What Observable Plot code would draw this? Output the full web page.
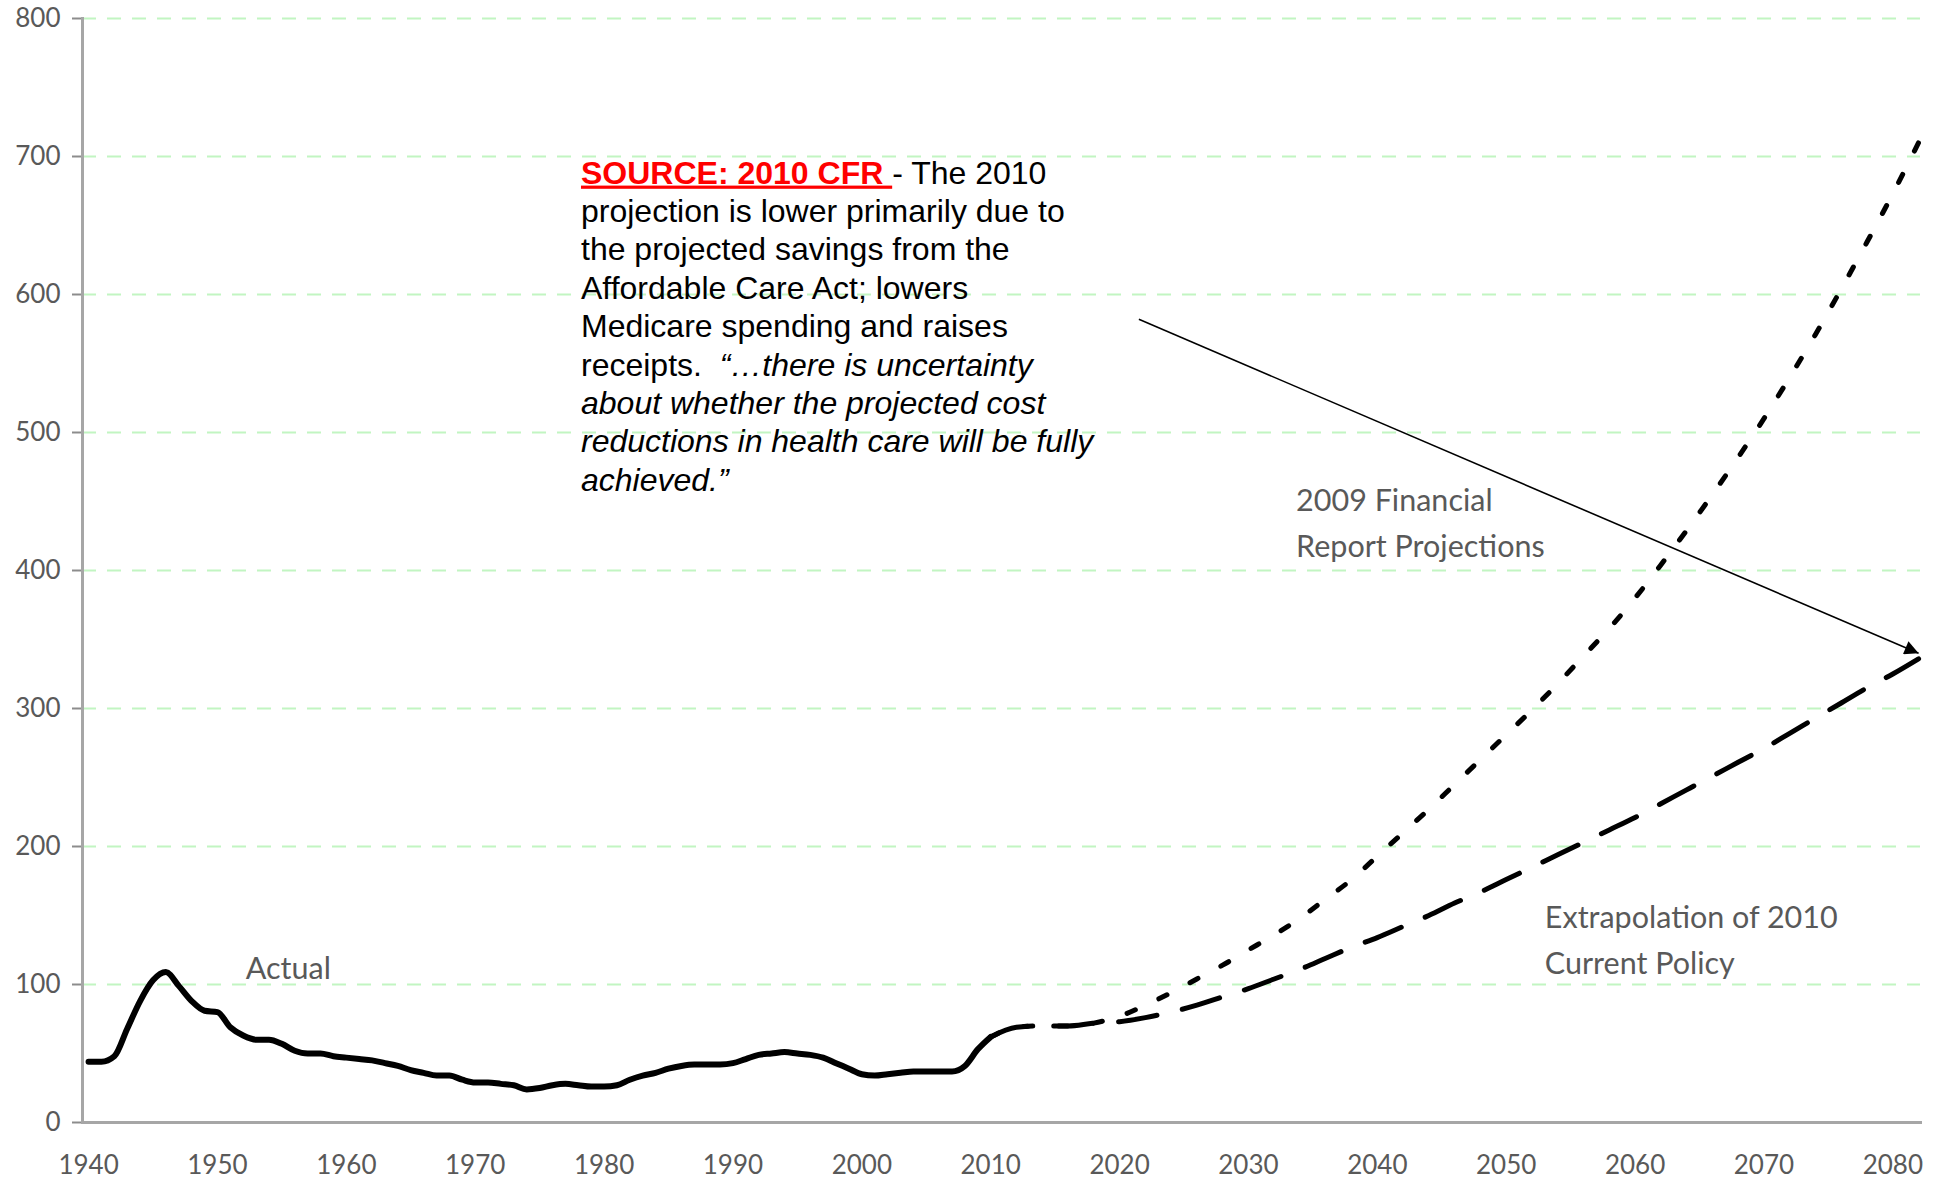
<!DOCTYPE html>
<html><head><meta charset="utf-8">
<script src="https://cdn.jsdelivr.net/npm/d3@7"></script>
<script src="https://cdn.jsdelivr.net/npm/@observablehq/plot@0.6"></script>
<style>
html,body{margin:0;padding:0;background:#fff;}
#chart{width:1940px;height:1181px;}
</style></head><body><div id="chart"></div>
<script>
// ---- data ----
const actualYears = [1940,1941,1942,1943,1944,1945,1946,1947,1948,1949,1950,1951,1952,1953,1954,1955,1956,1957,1958,1959,1960,1961,1962,1963,1964,1965,1966,1967,1968,1969,1970,1971,1972,1973,1974,1975,1976,1977,1978,1979,1980,1981,1982,1983,1984,1985,1986,1987,1988,1989,1990,1991,1992,1993,1994,1995,1996,1997,1998,1999,2000,2001,2002,2003,2004,2005,2006,2007,2008,2009,2010];
const actualValues = [44,44,48,68,88,103,109,99,88,81,80,69,63,60,60,57,52,50,50,48,47,46,45,43,41,38,36,34,34,31,29,29,28,27,24,25,27,28,27,26,26,27,31,34,36,39,41,42,42,42,43,46,49,50,51,50,49,47,43,39,35,34,35,36,37,37,37,37,41,53,62];
const projYears = [2010,2012,2014,2016,2018,2020,2022,2024,2026,2028,2030,2032,2034,2036,2038,2040,2042,2044,2046,2048,2050,2052,2054,2056,2058,2060,2062,2064,2066,2068,2070,2072,2074,2076,2078,2080,2082];
const fr2009Values = [62,69,70,70,72,77,85,94,104,114,125,136,148,162,176,193,210,227,245,263,281,299,318,338,358,380,404,429,455,482,510,540,571,604,638,673,710];
const cp2010Values = [62,69,70,70,72,73,76,80,85,91,97,104,111,119,127,134,142,150,159,167,176,185,194,203,212,221,231,241,251,261,271,282,293,304,315,325,336];
const yTicks = [0,100,200,300,400,500,600,700,800];
const xTicks = [1940,1950,1960,1970,1980,1990,2000,2010,2020,2030,2040,2050,2060,2070,2080];
const seriesLabels = [
  {year: 1952.2, value: 111, text: "Actual"},
  {year: 2033.7, value: 450, text: "2009 Financial"},
  {year: 2033.7, value: 417, text: "Report Projections"},
  {year: 2053.0, value: 148, text: "Extrapolation of 2010"},
  {year: 2053.0, value: 114.5, text: "Current Policy"}
];
const arrowLink = [{x1: 2021.5, y1: 582, x2: 2082, y2: 340}];
const noteAnchor = {year: 1978.25, value: 680};
const noteLines = [
  [{t: "SOURCE: 2010 CFR ", red: true}, {t: "- The 2010"}],
  [{t: "projection is lower primarily due to"}],
  [{t: "the projected savings from the"}],
  [{t: "Affordable Care Act; lowers"}],
  [{t: "Medicare spending and raises"}],
  [{t: "receipts.  "}, {t: "\u201c\u2026there is uncertainty", it: true}],
  [{t: "about whether the projected cost", it: true}],
  [{t: "reductions in health care will be fully", it: true}],
  [{t: "achieved.\u201d", it: true}]
];

const actual = actualYears.map((y, i) => ({year: y, value: actualValues[i]}));
const fr2009 = projYears.map((y, i) => ({year: y, value: fr2009Values[i]}));
const cp2010 = projYears.map((y, i) => ({year: y, value: cp2010Values[i]}));

const axisColor = "#595959";
const labelFont = "Lato, 'Open Sans', sans-serif";

const chart = Plot.plot({
  width: 1940,
  height: 1181,
  marginLeft: 82,
  marginRight: 20,
  marginTop: 18,
  marginBottom: 59,
  style: {background: "#fff", fontFamily: labelFont},
  x: {type: "linear", domain: [1939.53, 2082.15]},
  y: {domain: [0, 800]},
  marks: [
    Plot.ruleY(yTicks.filter(d => d > 0), {stroke: "#c2f5c2", strokeWidth: 2, strokeDasharray: "14,11"}),
    Plot.axisY({ticks: yTicks, tickSize: 10, tickPadding: 12, tickFormat: d => String(d), stroke: "#8c8c8c", strokeWidth: 2, fill: axisColor, fontSize: 26, label: null}),
    Plot.axisX({ticks: xTicks, tickSize: 0, tickPadding: 33, tickFormat: d => String(d), fill: axisColor, fontSize: 26, label: null}),
    Plot.frame({anchor: "left", stroke: "#a6a6a6", strokeWidth: 3}),
    Plot.frame({anchor: "bottom", stroke: "#a6a6a6", strokeWidth: 3}),
    Plot.line(actual, {x: "year", y: "value", stroke: "black", strokeWidth: 6, curve: "monotone-x", strokeLinejoin: "round", strokeLinecap: "round"}),
    Plot.line(fr2009, {x: "year", y: "value", stroke: "black", strokeWidth: 5, curve: "monotone-x", strokeDasharray: "9,26"}),
    Plot.line(cp2010, {x: "year", y: "value", stroke: "black", strokeWidth: 5, curve: "monotone-x", strokeDasharray: "39,26"}),
    Plot.text(seriesLabels, {x: "year", y: "value", text: "text", textAnchor: "start", lineAnchor: "middle", fill: "#595959", fontSize: 30.5, fontFamily: labelFont}),
    Plot.link(arrowLink, {x1: "x1", y1: "y1", x2: "x2", y2: "y2", stroke: "black", strokeWidth: 1.6})
  ]
});

const svg = d3.select(chart);
// filled arrowhead marker
const defs = svg.insert("defs", ":first-child");
defs.append("marker").attr("id", "tri").attr("viewBox", "0 0 10 10")
  .attr("refX", 10).attr("refY", 5).attr("markerWidth", 18).attr("markerHeight", 14)
  .attr("markerUnits", "userSpaceOnUse").attr("orient", "auto")
  .append("path").attr("d", "M0,0 L10,5 L0,10 Z").attr("fill", "black");
svg.selectAll("g[aria-label='link'] path").attr("marker-end", "url(#tri)");

// annotation block
const sx = chart.scale("x"), sy = chart.scale("y");
const nx = sx.apply(noteAnchor.year), ny = sy.apply(noteAnchor.value);
const note = svg.append("g")
  .attr("font-family", "'Liberation Sans', Arial, sans-serif")
  .attr("font-size", 32).attr("fill", "black").attr("text-anchor", "start");
noteLines.forEach((line, i) => {
  const t = note.append("text").attr("x", nx).attr("y", ny + i * 38.4)
    .attr("text-anchor", "start").style("white-space", "pre");
  line.forEach(seg => {
    const ts = t.append("tspan").text(seg.t);
    if (seg.red) ts.attr("fill", "#ff0000").attr("font-weight", "bold").attr("text-decoration", "underline");
    if (seg.it) ts.attr("font-style", "italic");
  });
});

document.getElementById("chart").appendChild(chart);
</script>
</body></html>
